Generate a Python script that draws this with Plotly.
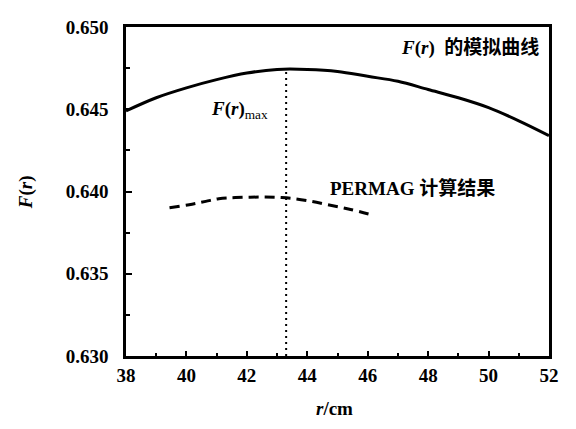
import plotly.graph_objects as go

# Simulated F(r) curve
r_sim = [38, 39, 40, 41, 42, 43, 44, 45, 46, 47, 48, 49, 50, 51, 52]
f_sim = [0.6449, 0.6457, 0.6463, 0.6468, 0.6472, 0.64742, 0.64742, 0.6473, 0.6470,
         0.6467, 0.6462, 0.6457, 0.6451, 0.6443, 0.6434]

# PERMAG computed result
r_perm = [39.44, 40.09, 40.64, 41.07, 41.62, 42.60, 43.15, 43.58, 44.13, 44.67, 45.43, 46.20]
f_perm = [0.63901, 0.63920, 0.63940, 0.63956, 0.63963, 0.63966, 0.63963, 0.63956,
          0.63940, 0.63920, 0.63891, 0.63855]

# Position of maximum
r_max = 43.3
f_max = 0.64742
y_min = 0.630

x_ticks = [38, 40, 42, 44, 46, 48, 50, 52]
y_ticks = [0.630, 0.635, 0.640, 0.645, 0.650]
y_tick_labels = ["0.630", "0.635", "0.640", "0.645", "0.650"]

SERIF = "Liberation Serif, Times New Roman, Noto Sans CJK SC"

fig = go.Figure()
fig.add_trace(go.Scatter(x=r_sim, y=f_sim, mode="lines", line=dict(color="black", width=3, shape="spline"),
                         showlegend=False))
fig.add_trace(go.Scatter(x=r_perm, y=f_perm, mode="lines",
                         line=dict(color="black", width=3, dash="10px,6px", shape="spline"),
                         showlegend=False))
fig.add_trace(go.Scatter(x=[r_max, r_max], y=[y_min, f_max], mode="lines",
                         line=dict(color="black", width=2, dash="2px,4px"), showlegend=False))

fig.update_layout(
    width=560, height=413,
    margin=dict(l=118, r=14, t=9, b=65),
    paper_bgcolor="white", plot_bgcolor="white",
    font=dict(family=SERIF, color="black", size=19),
    xaxis=dict(range=[38, 52], tickvals=x_ticks, ticktext=[f"<b>{v}</b>" for v in x_ticks],
               ticks="inside", ticklen=5, tickwidth=2, tickcolor="black",
               minor=dict(ticks="inside", ticklen=3, tickwidth=2, dtick=1, tickcolor="black"),
               showline=True, linecolor="black", linewidth=2.5, mirror=True,
               showgrid=False, zeroline=False, ticklabelstandoff=0,
               tickfont=dict(family=SERIF, size=19)),
    yaxis=dict(range=[0.630, 0.650], tickvals=y_ticks, ticktext=[f"<b>{t}</b>" for t in y_tick_labels],
               ticks="inside", ticklen=6, tickwidth=2, tickcolor="black",
               minor=dict(ticks="inside", ticklen=4, tickwidth=2, dtick=0.0025, tickcolor="black"),
               showline=True, linecolor="black", linewidth=2.5, mirror=True,
               showgrid=False, zeroline=False, ticklabelstandoff=11,
               tickfont=dict(family=SERIF, size=19)),
)

fig.add_annotation(x=49.40, y=0.64870, xref="x", yref="y", showarrow=False,
                   xanchor="center", yanchor="middle",
                   text="<b><i>F</i>(<i>r</i>)</b>  <b>的模拟曲线</b>",
                   font=dict(family=SERIF, size=19))
fig.add_annotation(x=41.75, y=0.64498, xref="x", yref="y", showarrow=False,
                   xanchor="center", yanchor="middle",
                   text="<b><i>F</i>(<i>r</i>)</b><sub>max</sub>",
                   font=dict(family=SERIF, size=19))
fig.add_annotation(x=47.49, y=0.64021, xref="x", yref="y", showarrow=False,
                   xanchor="center", yanchor="middle",
                   text="<b>PERMAG 计算结果</b>",
                   font=dict(family=SERIF, size=19))
# Axis titles
fig.add_annotation(x=-0.236, y=0.4985, xref="paper", yref="paper", showarrow=False,
                   xanchor="center", yanchor="middle",
                   text="<b><i>F</i>(<i>r</i>)</b>", textangle=-90,
                   font=dict(family=SERIF, size=19))
fig.add_annotation(x=0.493, y=-0.159, xref="paper", yref="paper", showarrow=False,
                   xanchor="center", yanchor="middle",
                   text="<b><i>r</i>/cm</b>",
                   font=dict(family=SERIF, size=19))

fig.write_html("out.html")
